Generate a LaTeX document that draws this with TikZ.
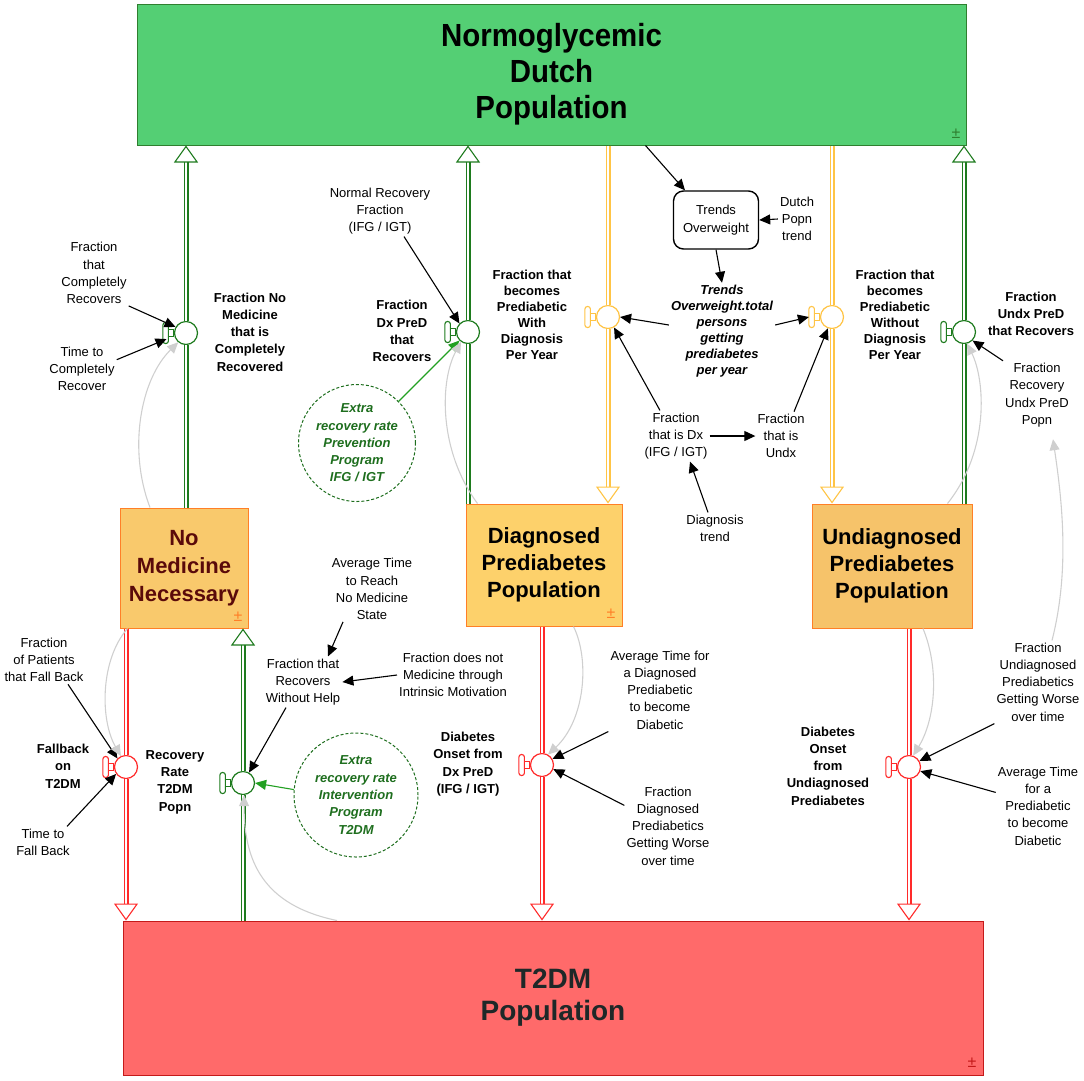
\documentclass[tikz,border=0pt]{standalone}
\usepackage{fontspec}
\setmainfont{Liberation Sans}
\newfontfamily\narrowsans[FakeStretch=0.92]{Liberation Sans}
\usetikzlibrary{arrows.meta}

\definecolor{pgreen}{HTML}{1E7B1E}
\definecolor{pred}{HTML}{FF2A2A}
\definecolor{pyellow}{HTML}{FFC445}
\definecolor{lgreen}{HTML}{22A022}
\definecolor{xgreen}{HTML}{1E6E1E}
\definecolor{linkgray}{HTML}{CFCFCF}
\definecolor{normofill}{HTML}{54CF74}
\definecolor{normoline}{HTML}{2F7F2F}
\definecolor{stockline}{HTML}{FF7F27}
\definecolor{nomedfill}{HTML}{F9C96C}
\definecolor{diagfill}{HTML}{FDD16B}
\definecolor{undiagfill}{HTML}{F6C36A}
\definecolor{t2dmfill}{HTML}{FF6A6A}
\definecolor{t2dmline}{HTML}{C41A1A}
\definecolor{nomedtext}{HTML}{5A0A0A}
\definecolor{t2dmtext}{HTML}{1E2828}

\tikzset{
    stock/.style={draw=stockline, line width=1pt, align=center, inner sep=0pt},
    lbl/.style={align=center, inner sep=2pt, font=\fontsize{13}{17.3}\selectfont},
    blbl/.style={lbl, font=\fontsize{13}{17.3}\selectfont\bfseries},
    valve/.style={circle, draw=#1, fill=white, line width=1.2pt, minimum size=23pt, inner sep=0pt},
    pipe/.style={draw=#1, double=white, double distance=2.8pt, line width=1.1pt},
    pipeend/.style={-{Triangle[open, length=17pt, width=24pt]}},
    link/.style={-{Triangle[length=11pt, width=10pt]}, line width=1.1pt},
    glink/.style={link, color=linkgray},
    extra/.style={circle, draw=xgreen, dash pattern=on 3pt off 2pt, line width=1pt, align=center, text=xgreen, inner sep=0pt, font=\fontsize{13}{17.3}\selectfont\bfseries\itshape},
    pm/.style={inner sep=0pt, font=\fontsize{16}{16}\selectfont}
}

\begin{document}
\begin{tikzpicture}[x=1pt, y=-1pt]
    \useasboundingbox (0,0) rectangle (1084,1080);

    % stocks
    \node[stock, fill=normofill, draw=normoline, minimum width=829pt, minimum height=141pt, font=\narrowsans\fontsize{32}{36}\selectfont\bfseries] (normo) at (551.5,74.5) {Normoglycemic\\Dutch\\Population};
    \node[stock, fill=nomedfill, minimum width=128pt, minimum height=120pt, text=nomedtext, font=\fontsize{22}{28}\selectfont\bfseries] (nomed) at (184,568) {No\\Medicine\\Necessary};
    \node[stock, fill=diagfill, minimum width=156pt, minimum height=122pt, font=\fontsize{22}{27}\selectfont\bfseries] (diag) at (544,565) {Diagnosed\\Prediabetes\\Population};
    \node[stock, fill=undiagfill, minimum width=160pt, minimum height=124pt, font=\fontsize{22}{27}\selectfont\bfseries] (undiag) at (892,566) {Undiagnosed\\Prediabetes\\Population};
    \node[stock, fill=t2dmfill, draw=t2dmline, minimum width=860pt, minimum height=154pt, text=t2dmtext, font=\fontsize{28}{32}\selectfont\bfseries] (t2dm) at (553,998) {T2DM\\Population};
    \node[pm, text=normoline] (pmnormo) at (956,134) {±};
    \node[pm, text=stockline] (pmnomed) at (238,617) {±};
    \node[pm, text=stockline] (pmdiag) at (611,614) {±};
    \node[pm, text=t2dmline] (pmt2dm) at (972,1063) {±};

    % valves
    \node[valve=pgreen] (v1) at (186,333) {};
    \node[valve=pgreen] (v2) at (468,332) {};
    \node[valve=pyellow] (v3) at (608,317) {};
    \node[valve=pyellow] (v4) at (832,317) {};
    \node[valve=pgreen] (v5) at (964,332) {};
    \node[valve=pred] (v6) at (126,767) {};
    \node[valve=pgreen] (v7) at (243,783) {};
    \node[valve=pred] (v8) at (542,765) {};
    \node[valve=pred] (v9) at (909,767) {};
    \foreach \v/\c in {v1/pgreen, v2/pgreen, v3/pyellow, v4/pyellow, v5/pgreen, v6/pred, v7/pgreen, v8/pred, v9/pred} {
            \draw[\c, line width=1.1pt, fill=white] ([yshift=-3.5pt]\v.west) rectangle ([xshift=-5.5pt, yshift=3.5pt]\v.west); % stem
            \draw[\c, line width=1.1pt, fill=white, rounded corners=2.5pt] ([xshift=-5.5pt, yshift=-10.5pt]\v.west) rectangle ([xshift=-11pt, yshift=10.5pt]\v.west); % handle
        }

    % flows
    \draw[pipe=pgreen] (nomed.north -| v1) -- (v1.south);
    \draw[pipe=pgreen, pipeend] (v1.north) -- (normo.south -| v1);
    \draw[pipe=pgreen] (diag.north -| v2) -- (v2.south);
    \draw[pipe=pgreen, pipeend] (v2.north) -- (normo.south -| v2);
    \draw[pipe=pyellow] (normo.south -| v3) -- (v3.north);
    \draw[pipe=pyellow, pipeend] (v3.south) -- (diag.north -| v3);
    \draw[pipe=pyellow] (normo.south -| v4) -- (v4.north);
    \draw[pipe=pyellow, pipeend] (v4.south) -- (undiag.north -| v4);
    \draw[pipe=pgreen] (undiag.north -| v5) -- (v5.south);
    \draw[pipe=pgreen, pipeend] (v5.north) -- (normo.south -| v5);
    \draw[pipe=pred] (nomed.south -| v6) -- (v6.north);
    \draw[pipe=pred, pipeend] (v6.south) -- (t2dm.north -| v6);
    \draw[pipe=pgreen] (t2dm.north -| v7) -- (v7.south);
    \draw[pipe=pgreen, pipeend] (v7.north) -- (nomed.south -| v7);
    \draw[pipe=pred] (diag.south -| v8) -- (v8.north);
    \draw[pipe=pred, pipeend] (v8.south) -- (t2dm.north -| v8);
    \draw[pipe=pred] (undiag.south -| v9) -- (v9.north);
    \draw[pipe=pred, pipeend] (v9.south) -- (t2dm.north -| v9);

    % variables
    \node[lbl] (fcr) at (94,273) {Fraction\\that\\Completely\\Recovers};
    \node[lbl] (ttcr) at (82,369) {Time to\\Completely\\Recover};
    \node[blbl] (fnm) at (250,332) {Fraction No\\Medicine\\that is\\Completely\\Recovered};
    \node[lbl] (nrf) at (380,211) {Normal Recovery\\Fraction\\(IFG / IGT)};
    \node[blbl] (fdxr) at (402,331) {Fraction\\Dx PreD\\that\\Recovers};
    \node[extra, minimum size=117pt] (xprev) at (357,443) {Extra\\recovery rate\\Prevention\\Program\\IFG / IGT};
    \node[blbl, font=\fontsize{13}{16}\selectfont\bfseries] (fbwd) at (532,315) {Fraction that\\becomes\\Prediabetic\\With\\Diagnosis\\Per Year};
    \node[lbl, draw, rounded corners=10pt, line width=1.4pt, minimum width=85pt, minimum height=58pt] (trends) at (716,220) {Trends\\Overweight};
    \node[lbl] (dpt) at (797,219) {Dutch\\Popn\\trend};
    \node[lbl, font=\fontsize{13}{16}\selectfont\bfseries\itshape] (tot) at (722,331) {Trends\\Overweight.total\\persons\\getting\\prediabetes\\per year};
    \node[lbl] (fdx) at (676,436) {Fraction\\that is Dx\\(IFG / IGT)};
    \node[lbl] (fundx) at (781,436) {Fraction\\that is\\Undx};
    \node[lbl] (dtr) at (715,528) {Diagnosis\\trend};
    \node[blbl, font=\fontsize{13}{16}\selectfont\bfseries] (fbwod) at (895,315) {Fraction that\\becomes\\Prediabetic\\Without\\Diagnosis\\Per Year};
    \node[blbl] (fur) at (1031,314) {Fraction\\Undx PreD\\that Recovers};
    \node[lbl] (frupp) at (1037,395) {Fraction\\Recovery\\Undx PreD\\Popn};
    \node[lbl] (ffb) at (44,660) {Fraction\\of Patients\\that Fall Back};
    \node[blbl] (fbt) at (63,766) {Fallback\\on\\T2DM};
    \node[lbl] (tfb) at (43,842) {Time to\\Fall Back};
    \node[blbl] (rrt) at (175,782) {Recovery\\Rate\\T2DM\\Popn};
    \node[lbl] (atr) at (372,589) {Average Time\\to Reach\\No Medicine\\State};
    \node[lbl] (frwh) at (303,682) {Fraction that\\Recovers\\Without Help};
    \node[lbl] (fdn) at (453,675) {Fraction does not\\Medicine through\\Intrinsic Motivation};
    \node[extra, minimum size=124pt] (xint) at (356,795) {Extra\\recovery rate\\Intervention\\Program\\T2DM};
    \node[blbl] (dod) at (468,764) {Diabetes\\Onset from\\Dx PreD\\(IFG / IGT)};
    \node[lbl] (atd) at (660,690) {Average Time for\\a Diagnosed\\Prediabetic\\to become\\Diabetic};
    \node[lbl] (fdgw) at (668,826) {Fraction\\Diagnosed\\Prediabetics\\Getting Worse\\over time};
    \node[blbl] (dou) at (828,766) {Diabetes\\Onset\\from\\Undiagnosed\\Prediabetes};
    \node[lbl] (fugw) at (1038,682) {Fraction\\Undiagnosed\\Prediabetics\\Getting Worse\\over time};
    \node[lbl] (atp) at (1038,806) {Average Time\\for a\\Prediabetic\\to become\\Diabetic};

    % links
    \draw[link] (fcr.south east) -- (v1.150);
    \draw[link] (ttcr.15) -- ([xshift=-9pt]v1.210);
    \draw[link] ([xshift=24pt]nrf.south) -- (v2.135);
    \draw[link, color=lgreen] (xprev.45) -- (v2.225);
    \draw[link] ([xshift=94pt]normo.south) -- ([xshift=-31pt]trends.north);
    \draw[link] (dpt.west) -- (trends.east);
    \draw[link] (trends.south) -- (tot.north);
    \draw[link] ([yshift=6pt]tot.west) -- (v3.east);
    \draw[link] ([yshift=6pt]tot.east) -- ([xshift=-11pt]v4.west);
    \draw[link] ([xshift=-16pt]fdx.north) -- (v3.300);
    \draw[link] (fdx.east) -- (fundx.west);
    \draw[link] ([xshift=13pt]fundx.north) -- (v4.250);
    \draw[link] ([xshift=-7pt]dtr.north) -- ([xshift=14pt]fdx.south);
    \draw[link] (frupp.north west) -- (v5.south east);
    \draw[link] ([xshift=24pt]ffb.south) -- (v6.135);
    \draw[link] ([xshift=24pt]tfb.north) -- (v6.215);
    \draw[link] ([xshift=-29pt]atr.south) -- ([xshift=25pt]frwh.north);
    \draw[link] (fdn.west) -- (frwh.east);
    \draw[link] ([xshift=-17pt]frwh.south) -- (v7.60);
    \draw[link, color=lgreen] (xint.175) -- (v7.east);
    \draw[link] (atd.south west) -- (v8.30);
    \draw[link] ([yshift=-21pt]fdgw.north west) -- (v8.-20);
    \draw[link] (fugw.south west) -- (v9.30);
    \draw[link] ([yshift=-28pt]atp.north west) -- (v9.-20);

    % gray links from stocks
    \draw[glink] ([xshift=-34pt]nomed.north) .. controls (128,450) and (140,380) .. (v1.230);
    \draw[glink] ([xshift=12pt]diag.north west) .. controls (438,450) and (440,380) .. (v2.235);
    \draw[glink] ([xshift=-25pt]undiag.north east) .. controls (990,450) and (985,380) .. (v5.285);
    \draw[glink] ([xshift=14pt]fugw.north) .. controls (1070,570) and (1062,500) .. ([xshift=16pt, yshift=-10pt]frupp.south);
    \draw[glink] ([xshift=8pt]nomed.south west) .. controls (100,660) and (100,720) .. (v6.115);
    \draw[glink] ([xshift=-49pt]diag.south east) .. controls (590,660) and (585,720) .. (v8.60);
    \draw[glink] ([xshift=-216pt]t2dm.north) .. controls (262,905) and (244,860) .. (v7.275);
    \draw[glink] ([xshift=31pt]undiag.south) .. controls (940,670) and (935,720) .. (v9.70);
\end{tikzpicture}
\end{document}
